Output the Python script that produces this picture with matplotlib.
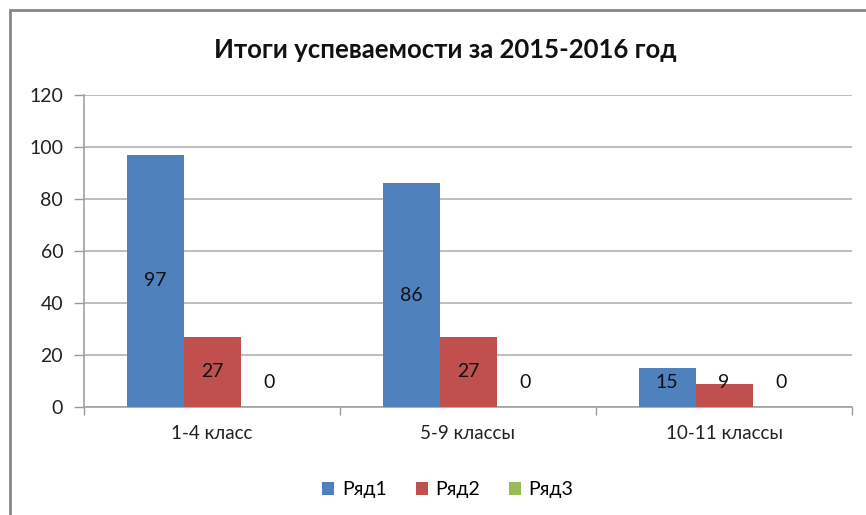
import matplotlib
matplotlib.use("Agg")
import matplotlib.pyplot as plt
from matplotlib.patches import Rectangle
import numpy as np

categories = ["1-4 класс", "5-9 классы", "10-11 классы"]
series_names = ["Ряд1", "Ряд2", "Ряд3"]
row1 = [97, 86, 15]
row2 = [27, 27, 9]
row3 = [0, 0, 0]
yticks = [0, 20, 40, 60, 80, 100, 120]
title = "Итоги успеваемости за 2015-2016 год"

colors = ["#4F81BD", "#C0504D", "#9BBB59"]
plt.rcParams['font.family'] = ['Lato', 'DejaVu Sans']

W, H = 866, 515
fig = plt.figure(figsize=(W/100, H/100), dpi=100)
fig.patch.set_facecolor("white")

# outer chart frame
fig.patches.append(Rectangle((10/W, -0.2), 1.5, 1.2 - 10/H, transform=fig.transFigure,
                             fill=False, edgecolor="#868686", linewidth=2, zorder=0))

ax = fig.add_axes([84/W, 1 - 407/H, (852-84)/W, (407-95)/H])
x = np.arange(len(categories))
bw = 57/256
data = [row1, row2, row3]
for i, (vals, c, name) in enumerate(zip(data, colors, series_names)):
    xs = x + (i - 1) * bw
    ax.bar(xs, vals, width=bw, color=c, label=name, zorder=3)
    for xi, v in zip(xs, vals):
        ax.text(xi, max(v/2, 9.3), str(v), ha="center", va="center",
                fontsize=14, color="#111111", zorder=4)

ax.set_xlim(-0.5, len(categories) - 0.5)
ax.set_ylim(0, 120)
ax.set_yticks(yticks)
ax.set_yticklabels([str(t) for t in yticks], fontsize=14, color="#222222")
ax.yaxis.grid(True, color="#b3b3b3", linewidth=1.2, zorder=0)
ax.set_axisbelow(True)
ax.tick_params(axis="y", length=7, color="#999999", pad=8, width=1)

ax.set_xticks(x)
ax.set_xticklabels(categories, fontsize=13.5, color="#222222")
ax.tick_params(axis="x", length=0, pad=13)
# category boundary ticks
ax.set_xticks(np.arange(len(categories) + 1) - 0.5, minor=True)
ax.tick_params(axis="x", which="minor", length=6, color="#999999", width=1)

for s in ["top", "right"]:
    ax.spines[s].set_visible(False)
for s in ["left", "bottom"]:
    ax.spines[s].set_color("#a0a0a0")
    ax.spines[s].set_linewidth(1.2)

fig.text(445/W, 1 - 50/H, title, ha="center", va="center", fontsize=18.5, fontweight="bold", color="#111111")

leg = fig.legend(loc="center", bbox_to_anchor=(448/W, 1 - 490/H), ncol=3, frameon=False,
                 fontsize=14, handlelength=0.6, handleheight=0.6, handletextpad=0.4,
                 columnspacing=1.5)

fig.savefig("out.png", dpi=100)
